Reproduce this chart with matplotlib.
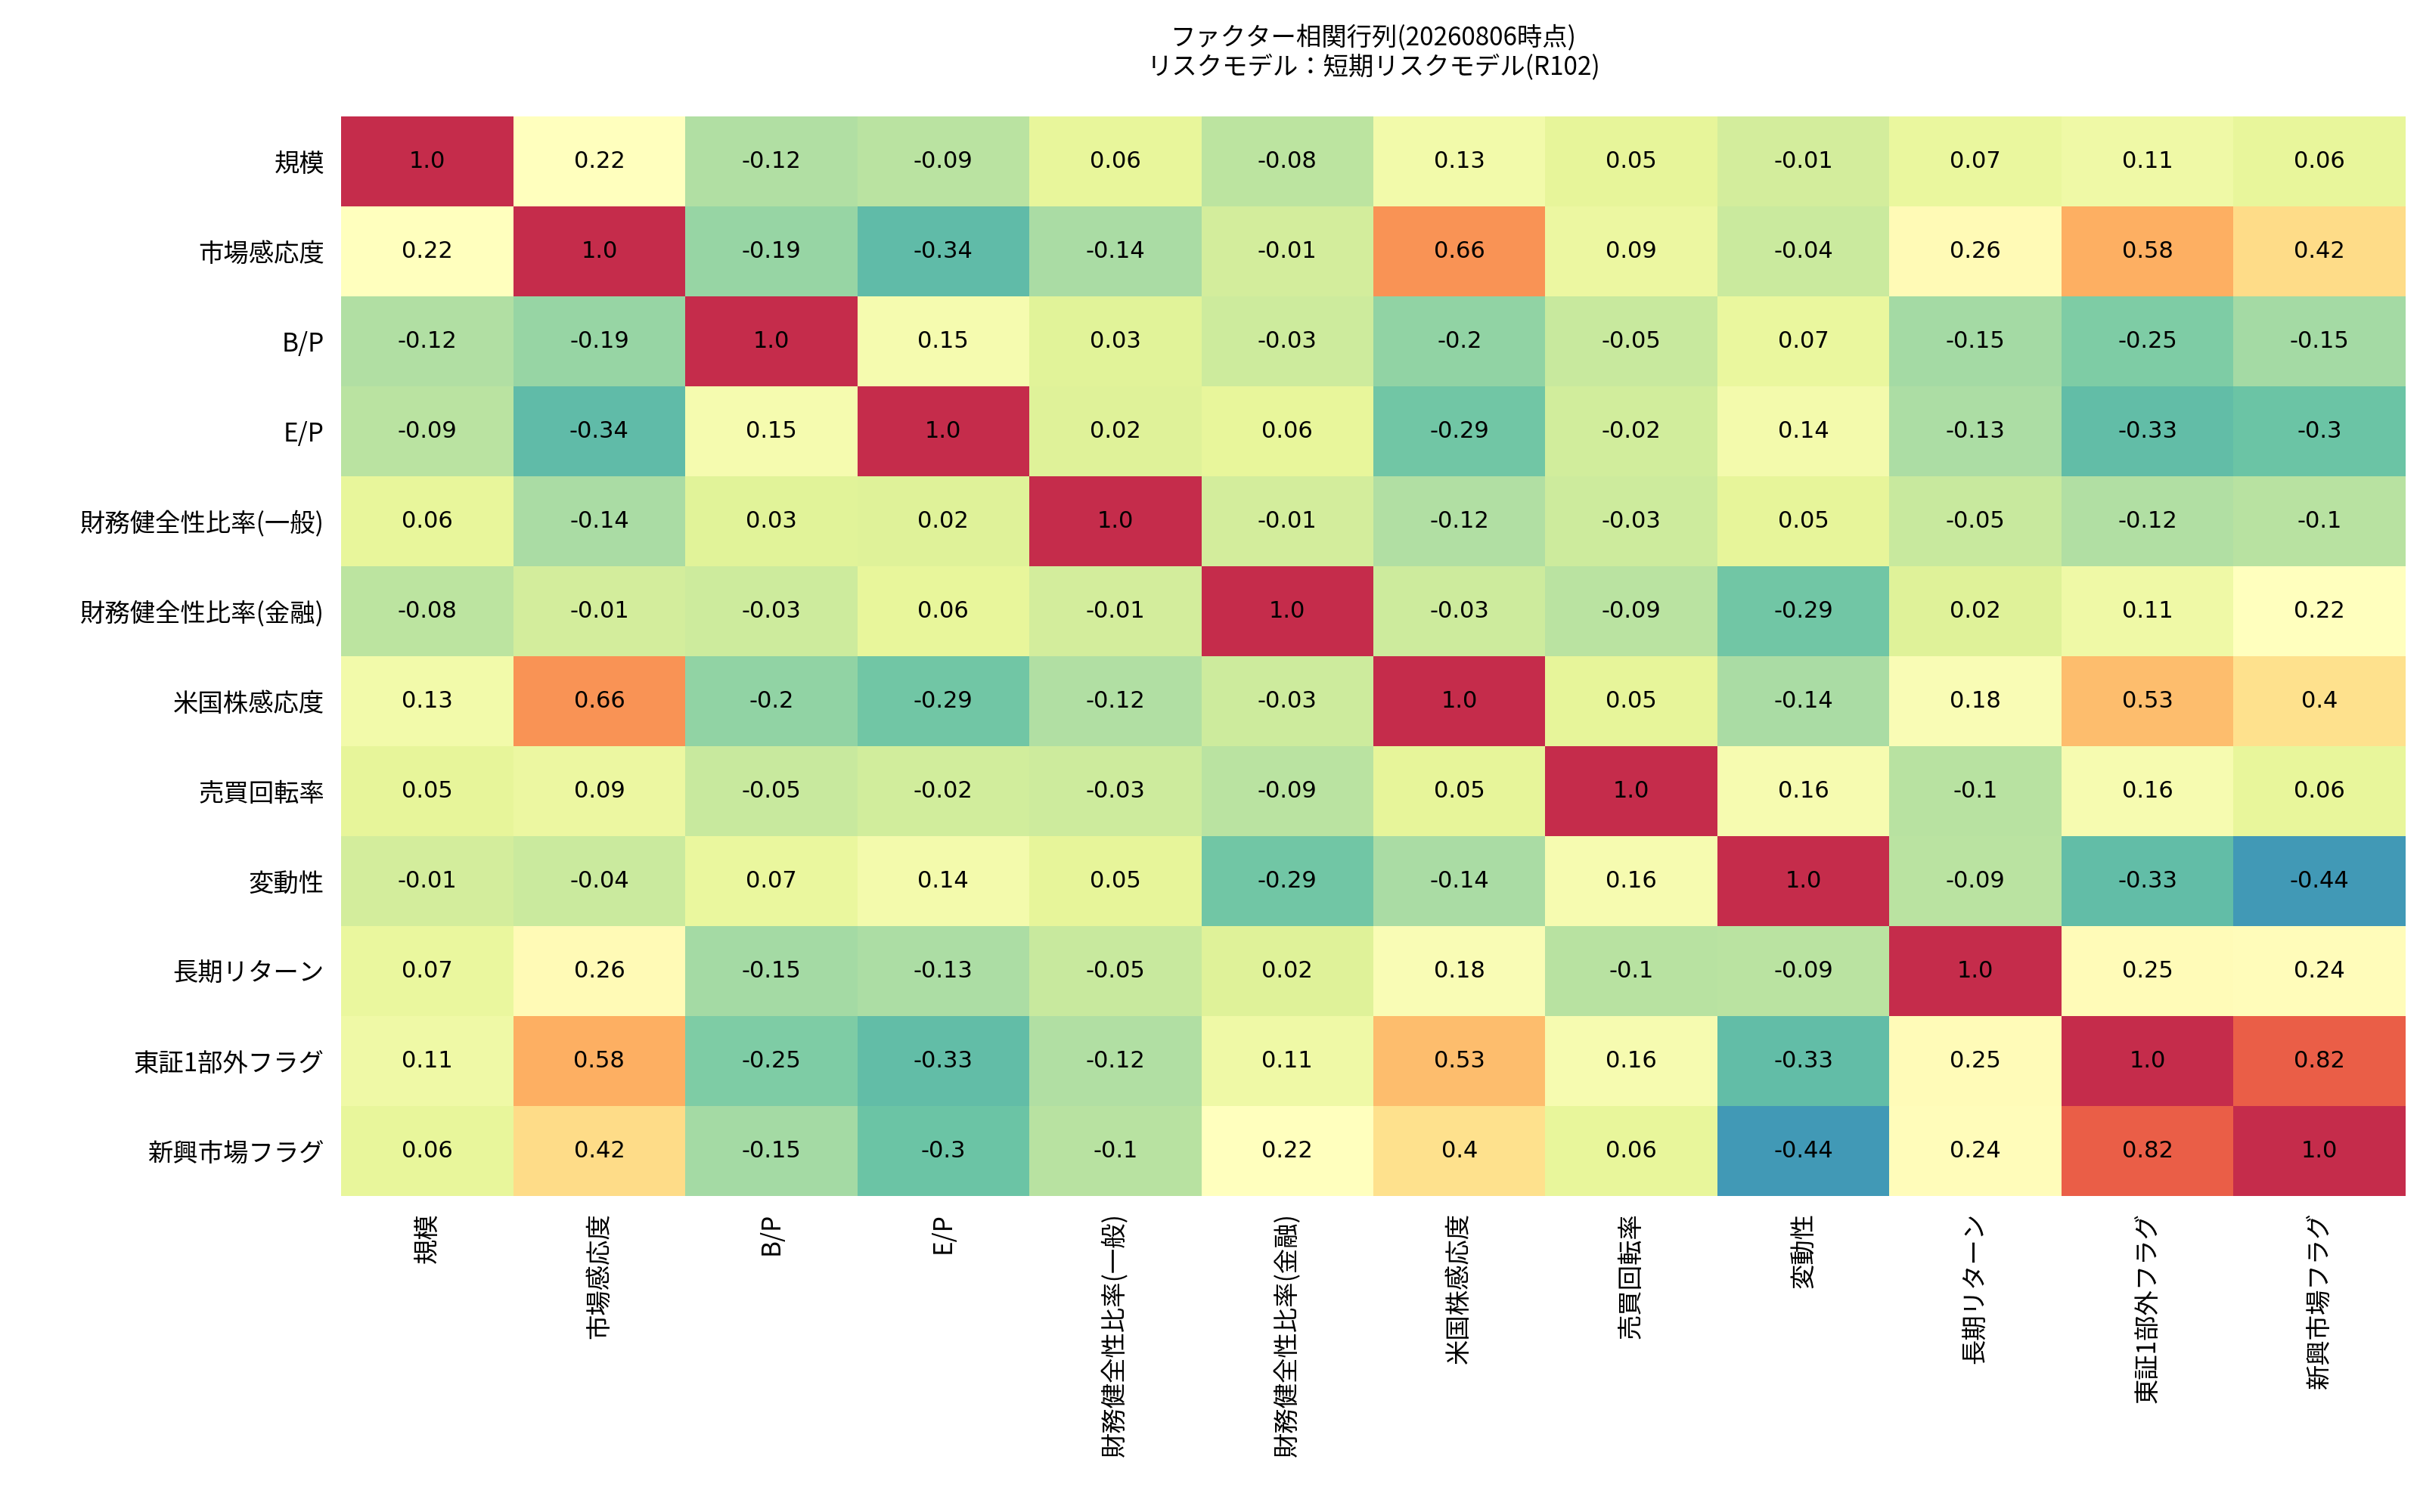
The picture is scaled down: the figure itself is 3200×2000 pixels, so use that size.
import matplotlib
matplotlib.use("Agg")
import matplotlib.pyplot as plt
import numpy as np

plt.rcParams['font.family'] = ['Noto Sans CJK JP', 'DejaVu Sans']

factors = ['規模', '市場感応度', 'B/P', 'E/P', '財務健全性比率(一般)', '財務健全性比率(金融)',
           '米国株感応度', '売買回転率', '変動性', '長期リターン', '東証1部外フラグ', '新興市場フラグ']

corr = [
    [1.0, 0.22, -0.12, -0.09, 0.06, -0.08, 0.13, 0.05, -0.01, 0.07, 0.11, 0.06],
    [0.22, 1.0, -0.19, -0.34, -0.14, -0.01, 0.66, 0.09, -0.04, 0.26, 0.58, 0.42],
    [-0.12, -0.19, 1.0, 0.15, 0.03, -0.03, -0.2, -0.05, 0.07, -0.15, -0.25, -0.15],
    [-0.09, -0.34, 0.15, 1.0, 0.02, 0.06, -0.29, -0.02, 0.14, -0.13, -0.33, -0.3],
    [0.06, -0.14, 0.03, 0.02, 1.0, -0.01, -0.12, -0.03, 0.05, -0.05, -0.12, -0.1],
    [-0.08, -0.01, -0.03, 0.06, -0.01, 1.0, -0.03, -0.09, -0.29, 0.02, 0.11, 0.22],
    [0.13, 0.66, -0.2, -0.29, -0.12, -0.03, 1.0, 0.05, -0.14, 0.18, 0.53, 0.4],
    [0.05, 0.09, -0.05, -0.02, -0.03, -0.09, 0.05, 1.0, 0.16, -0.1, 0.16, 0.06],
    [-0.01, -0.04, 0.07, 0.14, 0.05, -0.29, -0.14, 0.16, 1.0, -0.09, -0.33, -0.44],
    [0.07, 0.26, -0.15, -0.13, -0.05, 0.02, 0.18, -0.1, -0.09, 1.0, 0.25, 0.24],
    [0.11, 0.58, -0.25, -0.33, -0.12, 0.11, 0.53, 0.16, -0.33, 0.25, 1.0, 0.82],
    [0.06, 0.42, -0.15, -0.3, -0.1, 0.22, 0.4, 0.06, -0.44, 0.24, 0.82, 1.0],
]

title = 'ファクター相関行列(20260806時点)\nリスクモデル：短期リスクモデル(R102)'

data = np.array(corr)
n = len(factors)

fig = plt.figure(figsize=(16, 10), dpi=200)
ax = fig.add_axes([0.141, 0.209, 0.853, 0.714])
ax.pcolormesh(np.arange(n + 1), np.arange(n + 1), data, cmap='Spectral_r', vmin=-0.68, vmax=1.13)
ax.set_xlim(0, n)
ax.set_ylim(n, 0)

for i in range(n):
    for j in range(n):
        ax.text(j + 0.5, i + 0.5, f"{data[i, j]}", ha='center', va='center',
                fontsize=11, family='DejaVu Sans')

ax.set_xticks(np.arange(n) + 0.5)
ax.set_xticklabels(factors, rotation=90, fontsize=12)
ax.set_yticks(np.arange(n) + 0.5)
ax.set_yticklabels(factors, fontsize=12)
ax.tick_params(length=0, pad=8)
for s in ax.spines.values():
    s.set_visible(False)

ax.set_title(title, fontsize=12, pad=20, linespacing=1.1)

fig.savefig('out.png')
